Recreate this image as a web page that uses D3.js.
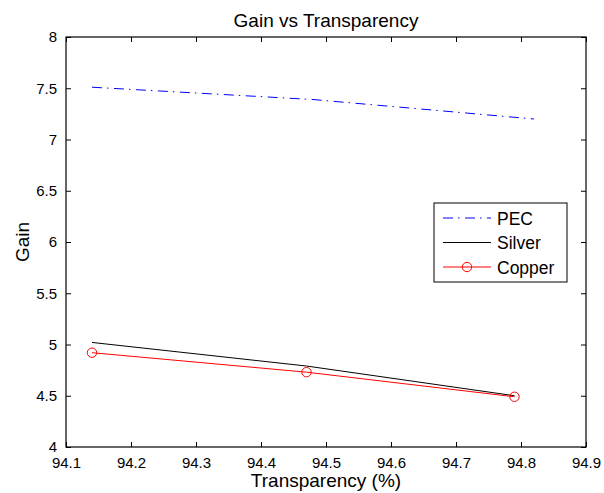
<!DOCTYPE html>
<html>
<head>
<meta charset="utf-8">
<script src="https://cdn.jsdelivr.net/npm/d3@7"></script>
<style>
  body { margin: 0; background: #fff; }
  text { font-family: "Liberation Sans", Arial, sans-serif; fill: #000; }
</style>
</head>
<body>
<div id="chart"></div>
<script>
// data
var pecX = [94.14, 94.48, 94.82],
    pecY = [7.51, 7.39, 7.20];
var silverX = [94.14, 94.47, 94.79],
    silverY = [5.02, 4.79, 4.50];
var copperX = [94.14, 94.47, 94.79],
    copperY = [4.92, 4.73, 4.49];
var xTicks = [94.1, 94.2, 94.3, 94.4, 94.5, 94.6, 94.7, 94.8, 94.9];
var yTicks = [4, 4.5, 5, 5.5, 6, 6.5, 7, 7.5, 8];
var seriesNames = ["PEC", "Silver", "Copper"];

var W = 604, H = 493;
var margin = { top: 37, right: 18, bottom: 46, left: 66 },
    width = W - margin.left - margin.right,
    height = H - margin.top - margin.bottom;

var svg = d3.select("#chart")
    .append("svg")
    .attr("width", W)
    .attr("height", H);

var g = svg.append("g")
    .attr("transform", "translate(" + margin.left + "," + margin.top + ")");

var x = d3.scaleLinear().domain([94.1, 94.9]).range([0, width]);
var y = d3.scaleLinear().domain([4, 8]).range([height, 0]);

// axes box with inward ticks (matlab style)
function styleAxis(sel) {
    sel.select(".domain").remove();
    sel.selectAll(".tick line").attr("stroke", "#000").attr("stroke-width", 1);
    sel.selectAll(".tick text")
        .style("font-family", "'Liberation Sans', Arial, sans-serif")
        .style("font-size", "15px")
        .attr("fill", "#000");
}

g.append("g")
    .attr("transform", "translate(0," + height + ")")
    .call(d3.axisBottom(x).tickValues(xTicks).tickSizeInner(-5).tickSizeOuter(0).tickPadding(10).tickFormat(d3.format(".1f")))
    .call(styleAxis);

g.append("g")
    .call(d3.axisTop(x).tickValues(xTicks).tickSizeInner(-5).tickSizeOuter(0).tickFormat(""))
    .call(styleAxis);

g.append("g")
    .call(d3.axisLeft(y).tickValues(yTicks).tickSizeInner(-5).tickSizeOuter(0).tickPadding(9).tickFormat(function(d) { return d3.format("")(d); }))
    .call(styleAxis);

g.append("g")
    .attr("transform", "translate(" + width + ",0)")
    .call(d3.axisRight(y).tickValues(yTicks).tickSizeInner(-5).tickSizeOuter(0).tickFormat(""))
    .call(styleAxis);

g.append("rect")
    .attr("x", 0).attr("y", 0)
    .attr("width", width).attr("height", height)
    .attr("fill", "none")
    .attr("stroke", "#000")
    .attr("stroke-width", 1.2);

var line = d3.line()
    .x(function(d) { return x(d[0]); })
    .y(function(d) { return y(d[1]); });

var pec = d3.zip(pecX, pecY),
    silver = d3.zip(silverX, silverY),
    copper = d3.zip(copperX, copperY);

g.append("path").datum(pec)
    .attr("d", line)
    .attr("fill", "none")
    .attr("stroke", "#0000ff")
    .attr("stroke-width", 1)
    .attr("stroke-dasharray", "10,5,1.5,5.5");

g.append("path").datum(silver)
    .attr("d", line)
    .attr("fill", "none")
    .attr("stroke", "#000")
    .attr("stroke-width", 1);

g.append("path").datum(copper)
    .attr("d", line)
    .attr("fill", "none")
    .attr("stroke", "#ff0000")
    .attr("stroke-width", 1);

g.selectAll(".cu")
    .data(copper)
    .enter().append("circle")
    .attr("cx", function(d) { return x(d[0]); })
    .attr("cy", function(d) { return y(d[1]); })
    .attr("r", 4.7)
    .attr("fill", "none")
    .attr("stroke", "#ff0000")
    .attr("stroke-width", 1);

// title and axis labels
svg.append("text")
    .attr("x", margin.left + width / 2)
    .attr("y", 27)
    .attr("text-anchor", "middle")
    .style("font-size", "19px")
    .text("Gain vs Transparency");

svg.append("text")
    .attr("x", margin.left + width / 2)
    .attr("y", 487)
    .attr("text-anchor", "middle")
    .style("font-size", "19px")
    .text("Transparency (%)");

svg.append("text")
    .attr("transform", "translate(29," + (margin.top + height / 2) + ") rotate(-90)")
    .attr("text-anchor", "middle")
    .style("font-size", "19px")
    .text("Gain");

// legend
var leg = svg.append("g").attr("transform", "translate(434,203)");
leg.append("rect")
    .attr("width", 133).attr("height", 79)
    .attr("fill", "#fff")
    .attr("stroke", "#000")
    .attr("stroke-width", 1);

var legStyles = [
    { color: "#0000ff", dash: "10,5,1.5,5.5", marker: false },
    { color: "#000", dash: null, marker: false },
    { color: "#ff0000", dash: null, marker: true }
];

seriesNames.forEach(function(name, i) {
    var yy = 15 + i * 24.5;
    var s = legStyles[i];
    leg.append("line")
        .attr("x1", 9).attr("x2", 57)
        .attr("y1", yy).attr("y2", yy)
        .attr("stroke", s.color)
        .attr("stroke-width", 1)
        .attr("stroke-dasharray", s.dash);
    if (s.marker) {
        leg.append("circle")
            .attr("cx", 33).attr("cy", yy).attr("r", 4.7)
            .attr("fill", "none").attr("stroke", s.color);
    }
    leg.append("text")
        .attr("x", 63).attr("y", yy + 6.5)
        .style("font-size", "17.5px")
        .text(name);
});
</script>
</body>
</html>
